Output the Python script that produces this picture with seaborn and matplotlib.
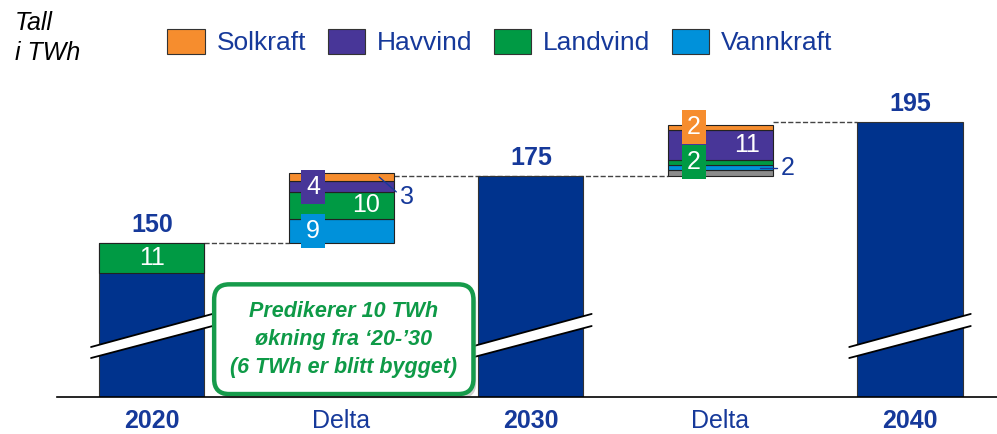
import matplotlib
matplotlib.use("Agg")
import matplotlib.pyplot as plt
import matplotlib.patheffects as pe
from matplotlib.patches import Patch, Polygon
import numpy as np
import pandas as pd
import seaborn as sns

# ---- data (TWh) ----
categories = ["2020", "Delta", "2030", "Delta", "2040"]
slots = ["2020", "Delta 20-30", "2030", "Delta 30-40", "2040"]
total_years = ["2020", "2030", "2040"]
total_values = [150, 175, 195]
landvind_2020 = 11

sources = ["Solkraft", "Havvind", "Landvind", "Vannkraft"]
# stacked from the bottom upwards
delta1_sources = ["Vannkraft", "Landvind", "Havvind", "Solkraft"]
delta1_values = [9, 10, 4, 3]
delta2_sources = ["Annet", "Vannkraft", "Landvind", "Havvind", "Solkraft"]
delta2_values = [2, 2, 2, 11, 2]

colors = {
    "Solkraft": "#F68D2E",
    "Havvind": "#483698",
    "Landvind": "#009A44",
    "Vannkraft": "#0091DA",
    "Annet": "#8C8C8C",
}
DARK = "#00338D"
TEXT = "#16399A"

sns.set_style("white")
plt.rcParams["font.family"] = ["Liberation Sans", "DejaVu Sans"]

fig = plt.figure(figsize=(9.97, 4.34), dpi=100)
W, H = 997, 434
ax = fig.add_axes([57 / W, (H - 397) / H, 1 - 57 / W, (397 - 90) / H])

y_low, y_high = 92.7, 206.9
bw = 0.555

# full bars for the three years
df_tot = pd.DataFrame({"slot": total_years, "TWh": total_values})
sns.barplot(data=df_tot, x="slot", y="TWh", order=slots, color=DARK,
            width=bw, edgecolor="#333333", linewidth=0.8, saturation=1,
            ax=ax, zorder=2)

# 2020: landvind share at the top of the bar
ax.bar(0, landvind_2020, bottom=total_values[0] - landvind_2020, width=bw,
       color=colors["Landvind"], edgecolor="#222222", linewidth=0.8, zorder=3)
ax.text(0, total_values[0] - landvind_2020 / 2, str(landvind_2020),
        color="white", fontsize=18, ha="center", va="center", zorder=6)

# stacked delta bars
def stacked(xpos, start, names, vals):
    bottom = start
    mids = {}
    for n, v in zip(names, vals):
        ax.bar(xpos, v, bottom=bottom, width=bw, color=colors[n],
               edgecolor="#222222", linewidth=0.8, zorder=3)
        mids[n] = bottom + v / 2
        bottom += v
    return mids

m1 = stacked(1, total_values[0], delta1_sources, delta1_values)
m2 = stacked(3, total_values[1], delta2_sources, delta2_values)

def boxed(x, y, txt, fc):
    ax.text(x, y, txt, color="white", fontsize=18, ha="center", va="center",
            zorder=7, bbox=dict(boxstyle="square,pad=0.2", fc=fc, ec="none"))

d1 = dict(zip(delta1_sources, delta1_values))
d2 = dict(zip(delta2_sources, delta2_values))

boxed(1 - 0.148, m1["Vannkraft"], str(d1["Vannkraft"]), colors["Vannkraft"])
boxed(1 - 0.148, m1["Havvind"], str(d1["Havvind"]), colors["Havvind"])
ax.text(1 + 0.13, m1["Landvind"], str(d1["Landvind"]), color="white",
        fontsize=18, ha="center", va="center", zorder=6)
ax.plot([1 + 0.2, 1 + 0.29], [m1["Solkraft"], m1["Solkraft"] - 5.5],
        color=TEXT, lw=1, zorder=6)
ax.text(1 + 0.345, m1["Solkraft"] - 7.5, str(d1["Solkraft"]), color=TEXT,
        fontsize=18, ha="center", va="center", zorder=6)

boxed(3 - 0.14, m2["Solkraft"], str(d2["Solkraft"]), colors["Solkraft"])
boxed(3 - 0.14, m2["Landvind"], str(d2["Landvind"]), colors["Landvind"])
ax.text(3 + 0.14, m2["Havvind"], str(d2["Havvind"]), color="white",
        fontsize=18, ha="center", va="center", zorder=6)
ax.plot([3 + 0.21, 3 + 0.30], [m2["Vannkraft"], m2["Vannkraft"]],
        color=TEXT, lw=1, zorder=6)
ax.text(3 + 0.355, m2["Vannkraft"], str(d2["Vannkraft"]), color=TEXT,
        fontsize=18, ha="center", va="center", zorder=6)

# dashed connectors between consecutive levels
ax.plot([0 + bw / 2, 1 - bw / 2], [total_values[0]] * 2, ls="--",
        color="#444444", lw=1, zorder=1)
ax.plot([1 + bw / 2, 3 - bw / 2], [total_values[1]] * 2, ls="--",
        color="#444444", lw=1, zorder=1)
ax.plot([3 + bw / 2, 4 - bw / 2], [total_values[2]] * 2, ls="--",
        color="#444444", lw=1, zorder=1)

# total labels
for xi, v in zip([0, 2, 4], total_values):
    ax.text(xi, v + 2.1, str(v), color=TEXT, fontsize=18, fontweight="bold",
            ha="center", va="bottom", zorder=6)

# axis-break bands across the year bars
ext = 0.043
for xi in [0, 2, 4]:
    xl, xr = xi - bw / 2 - ext, xi + bw / 2 + ext
    lo = (107.2, 119.1)
    hi = (111.3, 123.6)
    ax.add_patch(Polygon([(xl, lo[0]), (xr, lo[1]), (xr, hi[1]), (xl, hi[0])],
                         closed=True, fc="white", ec="none", zorder=4))
    ax.plot([xl, xr], lo, color="black", lw=1.3, zorder=5)
    ax.plot([xl, xr], hi, color="black", lw=1.3, zorder=5)

# callout
t = ax.text(1.013, 114.2,
            "Predikerer 10 TWh\nøkning fra \u201820-\u201930\n(6 TWh er blitt bygget)",
            color="#0E9A47", fontsize=15.5, fontweight="bold", style="italic",
            ha="center", va="center", linespacing=1.45, zorder=9,
            bbox=dict(boxstyle="round,pad=0.75,rounding_size=0.7", fc="white",
                      ec="#169B4B", lw=3.2))
t.get_bbox_patch().set_path_effects([
    pe.SimplePatchShadow(offset=(2, -3), shadow_rgbFace="#9a9a9a", alpha=0.45),
    pe.Normal()])

# axes styling
ax.set_xlim(-0.5, 4.459)
ax.set_ylim(y_low, y_high)
ax.set_xlabel("")
ax.set_ylabel("")
ax.set_yticks([])
ax.set_xticks(range(len(categories)))
ax.set_xticklabels(categories)
for lbl, c in zip(ax.get_xticklabels(), categories):
    lbl.set_color(TEXT)
    lbl.set_fontsize(18)
    if c != "Delta":
        lbl.set_fontweight("bold")
ax.tick_params(axis="x", length=0, pad=9)
for s in ["top", "right", "left"]:
    ax.spines[s].set_visible(False)
ax.spines["bottom"].set_color("black")
ax.spines["bottom"].set_linewidth(1.2)
ax.spines["bottom"].set_zorder(10)

# legend
handles = [Patch(facecolor=colors[s], edgecolor="#333333", linewidth=0.8)
           for s in sources]
fig.legend(handles, sources, loc="center", bbox_to_anchor=(500 / W, 1 - 42 / H),
           ncol=4, frameon=False, fontsize=19, labelcolor=TEXT,
           handlelength=1.42, handleheight=1.08, handletextpad=0.46,
           columnspacing=0.8)

fig.text(15 / W, 1 - 11 / H, "Tall\ni TWh", fontsize=18, style="italic",
         color="black", ha="left", va="top", linespacing=1.3)

fig.savefig("out.png", dpi=100)
